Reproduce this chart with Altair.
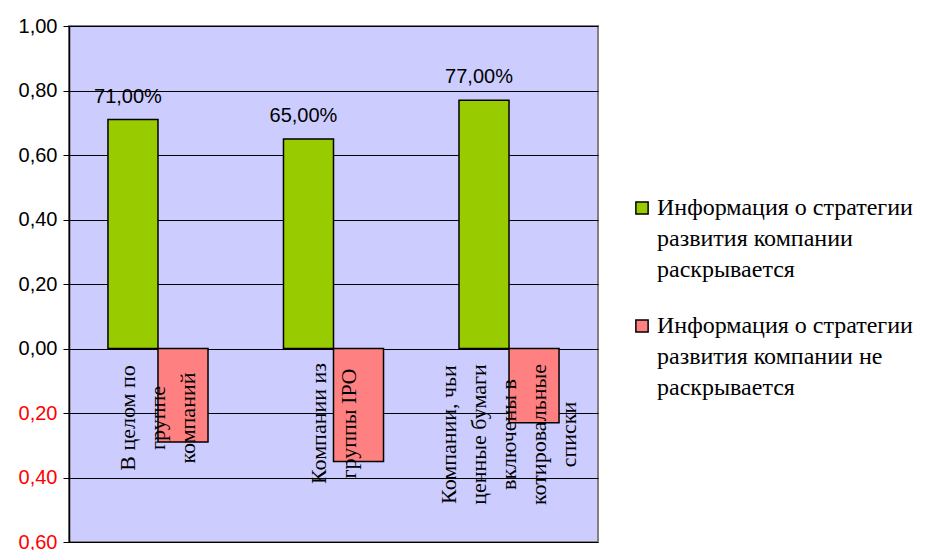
import altair as alt
import pandas as pd

categories = [
    "В целом по|группе|компаний",
    "Компании из|группы IPO",
    "Компании, чьи|ценные бумаги|включены в|котировальные|списки",
]
series = [
    "Информация о стратегии|развития компании|раскрывается",
    "Информация о стратегии|развития компании не|раскрывается",
]
disclosed = [0.71, 0.65, 0.77]
not_disclosed = [-0.29, -0.35, -0.23]
value_labels = ["71,00%", "65,00%", "77,00%"]
y_ticks = [-0.6, -0.4, -0.2, 0.0, 0.2, 0.4, 0.6, 0.8, 1.0]

rows = []
for i, c in enumerate(categories):
    rows.append({"cat": c, "series": series[0], "value": disclosed[i], "label": value_labels[i]})
    rows.append({"cat": c, "series": series[1], "value": not_disclosed[i], "label": ""})
df = pd.DataFrame(rows)
cat_df = pd.DataFrame({"cat": categories})

x_enc = alt.X("cat:N", sort=categories, axis=None,
              scale=alt.Scale(paddingInner=0.43, paddingOuter=0.222))
y_scale = alt.Scale(domain=[-0.6, 1.0], nice=False, zero=False)

SERIF = "Liberation Serif"

bars = alt.Chart(df).mark_bar(stroke="black", strokeWidth=1.5).encode(
    x=x_enc,
    xOffset=alt.XOffset("series:N", sort=series),
    y=alt.Y(
        "value:Q",
        scale=y_scale,
        axis=alt.Axis(
            values=y_ticks,
            title=None,
            labelExpr="replace(format(abs(datum.value), '.2f'), '.', ',')",
            labelColor={"condition": {"test": "datum.value < -0.001", "value": "#FF0000"}, "value": "black"},
            labelFont="Liberation Sans",
            labelFontSize=20,
            labelPadding=6,
            tickSize=6,
            tickColor="black",
            domainColor="black",
            domainWidth=1.5,
            grid=True,
            gridColor="black",
            gridWidth=1,
            gridOpacity=1,
        ),
    ),
    color=alt.Color(
        "series:N",
        sort=series,
        scale=alt.Scale(domain=series, range=["#99CC00", "#FF8080"]),
        legend=alt.Legend(
            title=None,
            orient="none",
            legendX=561,
            legendY=170,
            symbolType="square",
            symbolSize=150,
            symbolStrokeColor="black",
            symbolStrokeWidth=1.5,
            symbolOpacity=1,
            labelFont=alt.ExprRef("'Liberation Serif'"),
            labelFontSize=24,
            labelColor="black",
            labelLimit=400,
            labelOffset=3,
            labelExpr="split(datum.label, '|')",
            rowPadding=32,
            padding=0,
        ),
    ),
)

texts = alt.Chart(df).transform_filter("datum.value > 0").mark_text(
    font="Liberation Sans", fontSize=20, baseline="bottom", dy=-13, dx=-5, color="black"
).encode(
    x=x_enc,
    xOffset=alt.XOffset("series:N", sort=series),
    y=alt.Y("value:Q", scale=y_scale),
    text="label:N",
)

# Category labels: rotated, multi-line, lines centred on each other; the block
# is centred on its category and hangs just below the zero line.
LINE_H = 30
label_layers = []
for c in categories:
    lines = c.split("|")
    n = len(lines)
    longest = max(len(s) for s in lines)
    label_layers.append(
        alt.Chart(cat_df).transform_filter(alt.datum.cat == c).mark_text(
            font=SERIF, fontSize=22, angle=270, align="center",
            baseline="middle", lineBreak="|", lineHeight=LINE_H, color="black",
            dy=-(n - 1) / 2 * LINE_H, dx=-longest * 5.5,
        ).encode(
            x=x_enc,
            y=alt.datum(-0.045, scale=y_scale),
            text="cat:N",
        )
    )

chart = alt.layer(bars, texts, *label_layers).properties(
    width=529,
    height=516,
    padding={"left": 10, "top": 8, "right": 5, "bottom": 0},
).configure(
    style={"guide-label": {"lineHeight": 31}}
).configure_view(
    fill="#CCCCFF", stroke="#808080", strokeWidth=2
)

chart.save("out.html", embed_options={"renderer": "svg", "actions": False})
